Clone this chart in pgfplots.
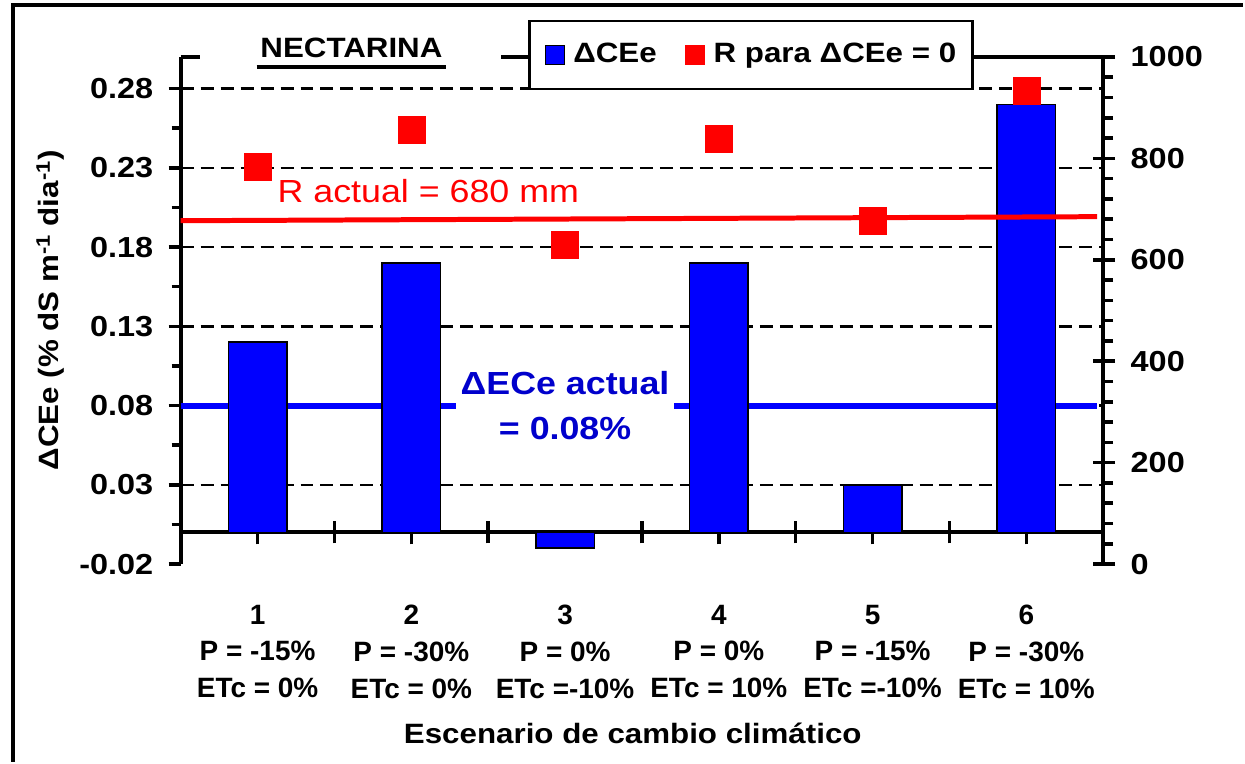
\documentclass[border=0pt]{standalone}
\usepackage{fontspec}
\setmainfont{Liberation Sans}
\newfontfamily\wf[FakeStretch=1.12]{Liberation Sans}
\usepackage{pgfplots}
\pgfplotsset{compat=1.18}

\definecolor{barblue}{RGB}{0,0,255}
\definecolor{txtblue}{RGB}{0,0,204}
\definecolor{rred}{RGB}{255,0,0}

\begin{document}
\begin{tikzpicture}
\path (0bp,0bp) rectangle (1245bp,763bp);

% left axis: Delta CEe bars
\begin{axis}[
  at={(181bp,198bp)}, anchor=south west,
  scale only axis, width=924bp, height=508bp,
  xmin=0.5, xmax=6.5, ymin=-0.02, ymax=0.30,
  axis x line*=middle, axis y line*=left,
  axis line style={line width=4bp},
  tick style={black, line width=3.5bp},
  tick align=outside,
  major tick length=12bp, minor tick length=9bp,
  xtick={1,2,3,4,5,6},
  xticklabels={{1\\P = -15\%\\ETc = 0\%},{2\\P = -30\%\\ETc = 0\%},
    {3\\P = 0\%\\ETc =-10\%},{4\\P = 0\%\\ETc = 10\%},
    {5\\P = -15\%\\ETc =-10\%},{6\\P = -30\%\\ETc = 10\%}},
  xticklabel style={align=center, yshift=-57bp,
    font=\bfseries\fontsize{28bp}{37bp}\selectfont},
  extra x ticks={1.5,2.5,3.5,4.5,5.5},
  extra x tick labels={},
  extra x tick style={tick align=center, major tick length=22bp},
  ytick={-0.02,0.03,0.08,0.13,0.18,0.23,0.28},
  yticklabels={-0.02,0.03,0.08,0.13,0.18,0.23,0.28},
  minor y tick num=1,
  yticklabel style={xshift=-12bp, font=\wf\bfseries\fontsize{29bp}{32bp}\selectfont},
  extra y ticks={0.03,0.08,0.13,0.18,0.23,0.28},
  extra y tick labels={},
  extra y tick style={grid=major, major tick length=0pt},
  major grid style={black, line width=2.5bp, dash pattern=on 13bp off 7bp},
  xlabel={Escenario de cambio climático},
  xlabel style={at={(axis description cs:0.490,-0.354)}, anchor=base,
    font=\wf\bfseries\fontsize{28bp}{32bp}\selectfont},
  ylabel={ΔCEe (\% dS m\textsuperscript{-1} dia\textsuperscript{-1})},
  ylabel style={at={(axis description cs:-0.141,0.5)}, anchor=center,
    font=\wf\bfseries\fontsize{28bp}{32bp}\selectfont},
]
\addplot[barblue, line width=6bp] coordinates {(0.5,0.08) (6.46,0.08)};
\addplot[ybar, bar width=0.38, fill=barblue, draw=black, line width=1.5bp]
  coordinates {(1,0.12) (2,0.17) (3,-0.01) (4,0.17) (5,0.03) (6,0.27)};
\node[fill=white, inner xsep=5bp, inner ysep=8bp, align=center, text=txtblue,
  font=\wf\bfseries\fontsize{32bp}{45bp}\selectfont]
  at (axis cs:3.0,0.08) {ΔECe actual\\= 0.08\%};
\node[fill=white, anchor=base west, inner xsep=3bp, inner ysep=9bp, text=rred,
  font=\wf\fontsize{32bp}{36bp}\selectfont]
  at (axis cs:1.11,0.208) {R actual = 680 mm};
\end{axis}

% right axis: R for Delta CEe = 0
\begin{axis}[
  at={(181bp,198bp)}, anchor=south west,
  scale only axis, width=924bp, height=508bp,
  xmin=0.5, xmax=6.5, ymin=0, ymax=1000,
  axis y line*=right, axis x line*=top,
  axis line style={line width=4bp},
  tick style={black, line width=3.5bp},
  tick align=outside,
  major tick length=12bp, minor tick length=10bp,
  xtick=\empty,
  ytick={0,200,400,600,800,1000},
  yticklabels={0,200,400,600,800,1000},
  minor y tick num=4,
  extra y ticks={0,200,400,600,800,1000},
  extra y tick labels={},
  extra y tick style={tick align=inside, major tick length=10bp},
  yticklabel style={xshift=12bp, font=\wf\bfseries\fontsize{29bp}{32bp}\selectfont},
  legend columns=2,
  legend image code/.code={\draw[mark repeat=2,mark phase=2,#1]
    plot coordinates {(0bp,0bp) (9.5bp,0bp) (19bp,0bp)};},
  legend style={at={(axis description cs:0.3766,1.0728)}, anchor=north west,
    draw=black, line width=2.5bp, fill=white, inner xsep=16bp, inner ysep=21bp,
    font=\wf\bfseries\fontsize{28bp}{32bp}\selectfont,
    nodes={inner sep=0pt, text height=20bp, text depth=6bp},
    /tikz/every odd column/.append style={column sep=9bp},
    /tikz/every even column/.append style={column sep=29bp}},
]
\addplot[rred, line width=5bp, forget plot] coordinates {(0.5,677) (6.46,685)};
\addplot[only marks, mark=square*, mark size=13.5bp, color=rred, forget plot]
  coordinates {(1,783) (2,857) (3,630) (4,838) (5,677) (6,933)};
\addlegendimage{only marks, mark=square*, mark size=9.5bp, fill=barblue, draw=black, line width=1.5bp}
\addlegendentry{ΔCEe}
\addlegendimage{only marks, mark=square*, mark size=9.5bp, color=rred, line width=0.4pt}
\addlegendentry{R para ΔCEe = 0}
\end{axis}

% title and frame
\fill[white] (200bp,688bp) rectangle (502bp,735bp);
\node[anchor=base, inner sep=0pt, font=\wf\bfseries\fontsize{28bp}{32bp}\selectfont]
  at (352bp,705bp) {NECTARINA};
\draw[line width=4bp] (257bp,696bp) -- (447bp,696bp);
\draw[line width=4bp] (13bp,0bp) -- (13bp,758bp) -- (1245bp,758bp);
\end{tikzpicture}
\end{document}
